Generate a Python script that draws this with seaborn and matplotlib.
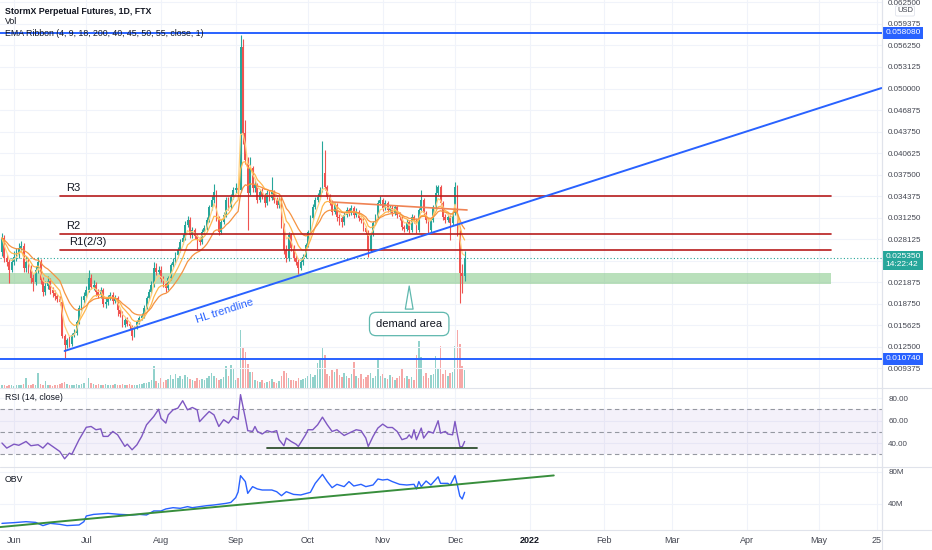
import numpy as np
import pandas as pd
import matplotlib
matplotlib.use("Agg")
import matplotlib.pyplot as plt
import matplotlib.dates as mdates
import matplotlib.transforms as mtransforms
from matplotlib.lines import Line2D
import seaborn as sns

# ---------------- data ----------------
START = "2021-06-01"          # day 0
FIRST_DAY = -5                # first candle = 2021-05-27
OPEN_FIRST = 0.02625

CLOSES = [
    0.02828, 0.02537, 0.02479, 0.02363, 0.02479, 0.02552, 0.02581, 0.02683, 0.02712, 0.02392,
    0.02479, 0.02392, 0.02247, 0.02189, 0.02363, 0.02479, 0.02218, 0.02043, 0.02130, 0.02203,
    0.02072, 0.02029, 0.01985, 0.01942, 0.01898, 0.01404, 0.01273, 0.01346, 0.01288, 0.01418,
    0.01448, 0.01607, 0.01811, 0.01927, 0.01985, 0.02072, 0.02247, 0.02116, 0.02145, 0.02043,
    0.02000, 0.02072, 0.01869, 0.01898, 0.01956, 0.02000, 0.01912, 0.01956, 0.01782, 0.01724,
    0.01564, 0.01636, 0.01578, 0.01549, 0.01404, 0.01520, 0.01607, 0.01665, 0.01695, 0.01811,
    0.01956, 0.02043, 0.02145, 0.02392, 0.02334, 0.02363, 0.02232, 0.02160, 0.02101, 0.02247,
    0.02436, 0.02479, 0.02581, 0.02653, 0.02770, 0.02828, 0.03017, 0.03089, 0.02871, 0.02944,
    0.02857, 0.02799, 0.02770, 0.02915, 0.02973, 0.03089, 0.03278, 0.03380, 0.03496, 0.03118,
    0.02915, 0.03060, 0.03162, 0.03380, 0.03278, 0.03424, 0.03525, 0.03554, 0.03525, 0.05603,
    0.04354, 0.03961, 0.03482, 0.03845, 0.03554, 0.03598, 0.03380, 0.03496, 0.03438, 0.03336,
    0.03482, 0.03409, 0.03496, 0.03380, 0.03307, 0.03380, 0.03017, 0.02653, 0.02537, 0.02871,
    0.02683, 0.02537, 0.02479, 0.02392, 0.02479, 0.02552, 0.02726, 0.02915, 0.03118, 0.03278,
    0.03380, 0.03424, 0.03525, 0.03772, 0.03569, 0.03424, 0.03336, 0.03206, 0.03307, 0.03133,
    0.03118, 0.03060, 0.03162, 0.03235, 0.03191, 0.03264, 0.03162, 0.03206, 0.03118, 0.03089,
    0.02973, 0.02915, 0.02653, 0.02886, 0.03046, 0.03133, 0.03336, 0.03380, 0.03264, 0.03336,
    0.03235, 0.03264, 0.03191, 0.03278, 0.03162, 0.03133, 0.02988, 0.02959, 0.03060, 0.02944,
    0.03133, 0.03089, 0.02944, 0.03235, 0.03380, 0.03191, 0.03089, 0.02944, 0.03089, 0.03278,
    0.03482, 0.03569, 0.03336, 0.03133, 0.03089, 0.03133, 0.03046, 0.03191, 0.03569, 0.02900,
    0.02319, 0.02276, 0.02535,
]
HIGHS = [
    0.02900, 0.02870, 0.02600, 0.02520, 0.02540, 0.02640, 0.02680, 0.02760, 0.02790, 0.02760,
    0.02560, 0.02530, 0.02440, 0.02300, 0.02420, 0.02550, 0.02520, 0.02260, 0.02200, 0.02270,
    0.02240, 0.02110, 0.02070, 0.02010, 0.01990, 0.01930, 0.01430, 0.01380, 0.01400, 0.01450,
    0.01500, 0.01640, 0.01850, 0.01980, 0.02050, 0.02130, 0.02360, 0.02300, 0.02220, 0.02190,
    0.02090, 0.02110, 0.02100, 0.01950, 0.02000, 0.02050, 0.02040, 0.02000, 0.01990, 0.01810,
    0.01760, 0.01670, 0.01680, 0.01610, 0.01570, 0.01550, 0.01640, 0.01700, 0.01740, 0.01850,
    0.01990, 0.02080, 0.02200, 0.02480, 0.02460, 0.02420, 0.02420, 0.02270, 0.02200, 0.02280,
    0.02470, 0.02540, 0.02620, 0.02700, 0.02820, 0.02880, 0.03080, 0.03150, 0.03130, 0.02990,
    0.02980, 0.02890, 0.02830, 0.02960, 0.03020, 0.03130, 0.03310, 0.03440, 0.03610, 0.03530,
    0.03150, 0.03100, 0.03200, 0.03420, 0.03430, 0.03460, 0.03570, 0.03620, 0.03590, 0.05780,
    0.05720, 0.04540, 0.04000, 0.04000, 0.03880, 0.03680, 0.03630, 0.03540, 0.03560, 0.03480,
    0.03530, 0.03530, 0.03720, 0.03530, 0.03420, 0.03430, 0.03420, 0.03050, 0.02720, 0.02920,
    0.02900, 0.02720, 0.02580, 0.02520, 0.02520, 0.02600, 0.02760, 0.02950, 0.03160, 0.03320,
    0.03420, 0.03480, 0.03570, 0.04230, 0.04100, 0.03600, 0.03460, 0.03380, 0.03340, 0.03340,
    0.03180, 0.03150, 0.03200, 0.03280, 0.03270, 0.03300, 0.03290, 0.03260, 0.03240, 0.03150,
    0.03120, 0.03000, 0.02940, 0.02920, 0.03080, 0.03170, 0.03380, 0.03440, 0.03410, 0.03380,
    0.03370, 0.03300, 0.03300, 0.03310, 0.03310, 0.03200, 0.03160, 0.03020, 0.03100, 0.03090,
    0.03170, 0.03160, 0.03120, 0.03270, 0.03520, 0.03410, 0.03220, 0.03110, 0.03120, 0.03310,
    0.03600, 0.03600, 0.03600, 0.03370, 0.03170, 0.03170, 0.03160, 0.03230, 0.03640, 0.03600,
    0.02950, 0.02450, 0.02640,
]
LOWS = [
    0.02560, 0.02480, 0.02420, 0.02175, 0.02330, 0.02430, 0.02500, 0.02540, 0.02640, 0.02340,
    0.02330, 0.02320, 0.02170, 0.02060, 0.02150, 0.02320, 0.02160, 0.01990, 0.02000, 0.02090,
    0.02010, 0.01970, 0.01930, 0.01900, 0.01850, 0.01370, 0.01080, 0.01230, 0.01250, 0.01260,
    0.01390, 0.01420, 0.01580, 0.01780, 0.01890, 0.01950, 0.02040, 0.02080, 0.02070, 0.01990,
    0.01950, 0.01960, 0.01830, 0.01810, 0.01860, 0.01920, 0.01870, 0.01880, 0.01700, 0.01680,
    0.01530, 0.01530, 0.01550, 0.01500, 0.01350, 0.01390, 0.01500, 0.01580, 0.01640, 0.01670,
    0.01790, 0.01920, 0.02010, 0.02120, 0.02290, 0.02300, 0.02190, 0.02110, 0.02050, 0.02070,
    0.02220, 0.02400, 0.02450, 0.02550, 0.02620, 0.02740, 0.02800, 0.02990, 0.02830, 0.02830,
    0.02810, 0.02650, 0.02720, 0.02740, 0.02890, 0.02940, 0.03060, 0.03240, 0.03340, 0.03080,
    0.02870, 0.02880, 0.03030, 0.03130, 0.03240, 0.03250, 0.03390, 0.03480, 0.03470, 0.03490,
    0.04200, 0.03900, 0.02940, 0.03450, 0.03500, 0.03500, 0.03330, 0.03350, 0.03390, 0.03280,
    0.03300, 0.03360, 0.03380, 0.03330, 0.03260, 0.03270, 0.02980, 0.02600, 0.02480, 0.02500,
    0.02640, 0.02490, 0.02430, 0.02310, 0.02360, 0.02440, 0.02530, 0.02700, 0.02890, 0.03090,
    0.03250, 0.03350, 0.03390, 0.03500, 0.03530, 0.03390, 0.03300, 0.03160, 0.03180, 0.03080,
    0.03020, 0.02990, 0.03020, 0.03130, 0.03150, 0.03160, 0.03120, 0.03130, 0.03080, 0.03050,
    0.02930, 0.02880, 0.02550, 0.02630, 0.02860, 0.03020, 0.03110, 0.03300, 0.03220, 0.03230,
    0.03200, 0.03200, 0.03150, 0.03160, 0.03120, 0.03090, 0.02950, 0.02910, 0.02930, 0.02900,
    0.02910, 0.03050, 0.02900, 0.02920, 0.03200, 0.03150, 0.03050, 0.02900, 0.02920, 0.03060,
    0.03250, 0.03450, 0.03300, 0.03090, 0.03050, 0.03060, 0.02800, 0.03010, 0.03160, 0.02850,
    0.01880, 0.02030, 0.02200,
]
VOLUME = [  # millions
    3, 3, 2, 3, 3, 2, 3, 3, 3, 4,
    10, 3, 3, 4, 3, 15, 4, 3, 7,
    3, 3, 2, 3, 3, 4, 5, 6,
    4, 3, 3, 3, 4, 3, 4, 5, 27, 10,
    5, 4, 3, 4, 3, 3, 4, 3, 3, 3, 4, 3, 3, 4, 3, 3, 4, 3, 3, 3, 4, 4, 5, 5, 6,
    8, 22, 7, 5, 10, 6, 8, 9, 13, 9, 14, 10, 12, 9, 13, 11, 9, 8, 7, 10,
    8, 9, 8, 10, 12, 15, 12, 10, 8, 9, 11, 22, 12, 23, 20, 8, 10,
    58, 40, 36, 24, 16, 16, 8,
    7, 6, 8, 5, 6, 7, 9, 6, 5, 7,
    12, 17, 15, 10, 8,
    8, 7, 10, 8, 9,
    10, 12, 14, 11, 13,
    25, 28, 40, 33,
    14, 12, 18, 16, 20, 13, 11, 15, 12, 10, 14,
    26,
    12, 10, 14, 9, 11, 13, 15, 10, 12,
    30,
    12, 14, 10, 9, 13, 11, 8, 10, 12,
    20,
    10, 12, 9, 11, 8,
    33, 47, 31,
    12, 15, 10, 13, 14,
    32, 20, 42,
    14, 18, 12, 15, 16,
    42, 58, 44, 22, 18,
]

RSI_DAYS = [-5, -3, 0, 2, 5, 7, 10, 12, 14, 17, 19, 21, 23, 24, 27, 30, 32, 34, 36, 37,
            39, 41, 43, 46, 47, 49, 51, 53, 55, 58, 60, 61, 63, 64, 66, 68, 70, 72, 74, 76,
            77, 79, 81, 83, 85, 87, 89, 91, 93, 94, 96, 97, 99, 100, 101, 103, 105, 107, 109, 110,
            112, 113, 115, 117, 118, 121, 122, 124, 126, 128, 130, 132, 134, 137, 139, 142, 144, 146, 147, 149,
            151, 153, 155, 157, 159, 161, 163, 164, 165, 166, 167, 169, 170, 172, 174, 176, 177, 179, 180, 182,
            183, 184, 185, 186, 187]
RSI_VALUES = [40, 35.5, 39, 38, 41.4, 37.6, 38.5, 35.5, 40, 35.5,
              32.5, 26, 31, 30, 43, 54, 54.7, 51.8, 52.6, 45.9,
              45.9, 50.3, 47.3, 37, 39, 34, 38.4, 45.9, 56.2, 63.6,
              70, 62, 57.7, 65, 69.5, 71, 77.6, 69.5, 71.6, 69.5,
              59, 63.6, 68, 65, 54.7, 60.7, 57.7, 63.6, 61, 83,
              62, 51, 50.3, 54.7, 50.3, 48, 51, 49.7, 51, 43,
              37.6, 44.4, 41.4, 39, 37, 47.3, 51.8, 51.8, 56.2, 63,
              56.2, 50.3, 51.8, 46.7, 48.8, 51.8, 51, 44.4, 37, 45.9,
              53.3, 56.8, 53.8, 53.8, 50.3, 43, 44.4, 47.3, 44.4, 51.8,
              43, 53.3, 44.4, 50.3, 48.8, 59.8, 48.8, 50.3, 48, 47.3,
              59.2, 47.3, 37, 36.5, 41.4]

OBV_DAYS = [-5, 0, 5, 9, 12, 15, 19, 22, 27, 29,
            30, 33, 39, 44, 49, 52, 55, 58, 61, 63,
            66, 69, 72, 74, 77, 80, 83, 85, 88, 90,
            92, 93, 94, 96, 97, 99, 101, 103, 107, 109,
            111, 113, 116, 119, 123, 125, 128, 130, 132, 134,
            137, 139, 141, 144, 146, 149, 151, 153, 155, 157,
            160, 163, 166, 167, 168, 169, 171, 173, 176, 177,
            180, 181, 183, 184, 185, 186, 187]
OBV_VALUES = [15.8, 16.7, 17.9, 17, 13, 15.8, 14.6, 13, 13.8, 17.9,   # millions
              25, 27, 28.3, 27, 26.3, 27, 26.3, 31.3, 31.3, 33.8,
              35.4, 34.6, 36.7, 35.4, 36.7, 37.9, 38.8, 39.6, 40.8, 42,
              48, 55, 75.4, 68, 53.3, 61.7, 58.8, 57.5, 57.5, 55.4,
              50.4, 55.4, 52, 51.3, 54.6, 65.8, 77, 68, 60.4, 64.6,
              61.7, 68, 62.5, 64.6, 61.7, 63.75, 71.25, 70, 70.8, 68,
              64.6, 63.75, 64.6, 58.8, 68, 61.7, 68.75, 63.75, 74, 65.8,
              65.8, 63.75, 75.4, 63.75, 50, 46.25, 54.6]

EMA_LENGTHS = [4, 9, 18]
EMA_COLORS = ["#ffd180", "#ffb74d", "#f59342"]

LEVEL_HIGH = 0.05808
LEVEL_LOW = 0.01074
LAST_PRICE = 0.02535
R_LEVELS = [0.03431, 0.02886, 0.02653]
R_NAMES = ["R3", "R2", "R1(2/3)"]
R_LABEL_DAYS = [21.6, 21.6, 22.8]
R_START, R_END = "2021-06-20", "2022-05-06"
DEMAND_LOW, DEMAND_HIGH = 0.02160, 0.02319
DEMAND_START, DEMAND_END = "2021-05-26", "2022-05-06"
TREND_START = ("2021-06-22", 0.01186)
TREND_END = ("2022-05-27", 0.05007)
HL_LABEL = (87.5, 0.0177)
CONSOL_START = ("2021-10-11", 0.03351)
CONSOL_END = ("2021-12-06", 0.03235)
DEMAND_TIP = ("2021-11-12", 0.0217)
DEMAND_TEXT_PRICE = 0.01578
RSI_SUPPORT = ("2021-09-14", "2021-12-10", 36.0)
OBV_TREND = (("2021-05-26", 11.1), ("2022-01-11", 75.7))

XTICK_DATES = ["2021-06-01", "2021-07-01", "2021-08-01", "2021-09-01", "2021-10-01",
               "2021-11-01", "2021-12-01", "2022-01-01", "2022-02-01", "2022-03-01",
               "2022-04-01", "2022-05-01", "2022-05-25"]
XTICK_LABELS = ["Jun", "Jul", "Aug", "Sep", "Oct", "Nov", "Dec", "2022", "Feb", "Mar",
                "Apr", "May", "25"]

PRICE_TICKS = [0.009375 + 0.003125 * i for i in range(18)]

# ---------------- styling ----------------
sns.set_theme(style="white")
plt.rcParams["font.family"] = ["Liberation Sans", "DejaVu Sans"]

UP, DOWN = "#26a69a", "#ef5350"
BLUE = "#2962ff"
GRID = "#f0f3fa"
SEP = "#e0e3eb"
TXT = "#131722"
AXTXT = "#434651"

W, H = 932, 550
fig = plt.figure(figsize=(W / 100, H / 100), dpi=100)
fig.patch.set_facecolor("white")


def rect(top, bottom):
    return [0, 1 - bottom / H, 882 / W, (bottom - top) / H]


ax = fig.add_axes(rect(0, 388))
ax_rsi = fig.add_axes(rect(388, 467), sharex=ax)
ax_obv = fig.add_axes(rect(467, 530), sharex=ax)
ax_vol = ax.twinx()
ax.set_zorder(ax_vol.get_zorder() + 1)
ax.patch.set_visible(False)

start = pd.Timestamp(START)
to_num = lambda s: mdates.date2num(pd.Timestamp(s))
day_num = lambda d: mdates.date2num(start + pd.Timedelta(days=float(d)))

n = len(CLOSES)
days = np.arange(FIRST_DAY, FIRST_DAY + n)
x = np.array([day_num(d) for d in days])
c = np.array(CLOSES)
o = np.array([OPEN_FIRST] + CLOSES[:-1])
hi = np.array(HIGHS)
lo = np.array(LOWS)
up = c >= o
cols = np.where(up, UP, DOWN)

x_left, x_right = day_num(-5.81), day_num(360.2)

# ---- main price panel ----
ax.fill_between([to_num(DEMAND_START), to_num(DEMAND_END)], DEMAND_LOW, DEMAND_HIGH,
                color="#81c784", alpha=0.55, lw=0, zorder=1)
ax.axhline(LAST_PRICE, color=UP, lw=0.8, ls=(0, (1, 2)), zorder=1)
ax.vlines(x, lo, hi, colors=cols, lw=0.8, zorder=3)
ax.bar(x, np.maximum(np.abs(c - o), 0.00005), bottom=np.minimum(o, c), width=0.74,
       color=cols, lw=0, zorder=4)

close_s = pd.Series(c)
for L, col in zip(EMA_LENGTHS, EMA_COLORS):
    sns.lineplot(x=x, y=close_s.ewm(span=L, adjust=False).mean().values, ax=ax,
                 color=col, lw=0.9, zorder=5)

for lvl in R_LEVELS:
    ax.plot([to_num(R_START), to_num(R_END)], [lvl, lvl], color="#b71c1c", lw=1.2, zorder=6)
for lvl, name, d in zip(R_LEVELS, R_NAMES, R_LABEL_DAYS):
    ax.annotate(name, xy=(day_num(d), lvl), xytext=(0, 2.5), textcoords="offset points",
                ha="left", va="bottom", fontsize=8, color=TXT, zorder=7)

ax.axhline(LEVEL_HIGH, color=BLUE, lw=1.4, zorder=6)
ax.axhline(LEVEL_LOW, color=BLUE, lw=1.4, zorder=6)
t0, t1 = (to_num(TREND_START[0]), TREND_START[1]), (to_num(TREND_END[0]), TREND_END[1])
ax.plot([t0[0], t1[0]], [t0[1], t1[1]], color=BLUE, lw=1.4, zorder=6)
ax.plot([to_num(CONSOL_START[0]), to_num(CONSOL_END[0])], [CONSOL_START[1], CONSOL_END[1]],
        color="#ef8354", lw=1.2, zorder=6)

ax.set_xlim(x_left, x_right)
ax.set_ylim(0.00648, 0.06286)
ax.yaxis.tick_right()
ax.set_yticks(PRICE_TICKS)
# labels hidden behind the last-price badge are left blank, as on the reference
ax.set_yticklabels(["" if abs(t - LAST_PRICE) < 0.0012 else f"{t:.6f}" for t in PRICE_TICKS])

# trendline label along the line
p0 = ax.transData.transform(t0)
p1 = ax.transData.transform(t1)
ang = np.degrees(np.arctan2(p1[1] - p0[1], p1[0] - p0[0]))
ax.text(day_num(HL_LABEL[0]), HL_LABEL[1], "HL trendline", rotation=ang, color=BLUE,
        fontsize=8, ha="center", va="center", rotation_mode="anchor", zorder=7)

ax.annotate("demand area", xy=(to_num(DEMAND_TIP[0]), DEMAND_TIP[1]),
            xytext=(to_num(DEMAND_TIP[0]), DEMAND_TEXT_PRICE),
            ha="center", va="center", fontsize=8, color=TXT, zorder=8,
            bbox=dict(boxstyle="round,pad=0.6,rounding_size=0.6", fc="white", ec="#5fb8ae", lw=0.9),
            arrowprops=dict(arrowstyle="wedge,tail_width=0.7,shrink_factor=0.5", fc="white",
                            ec="#5fb8ae", lw=0.9, relpos=(0.5, 1.0)))

# volume (overlay at bottom of main panel)
vol_cols = [(0.149, 0.651, 0.604, 0.5) if u else (0.937, 0.325, 0.314, 0.5) for u in up]
ax_vol.bar(x, VOLUME, width=0.65, color=vol_cols, lw=0)
ax_vol.set_ylim(0, max(VOLUME) / 0.15)
ax_vol.set_yticks([])
for s in ax_vol.spines.values():
    s.set_visible(False)

# badges on the price scale
blend = mtransforms.blended_transform_factory(ax.transAxes, ax.transData)
for lvl, txt in [(LEVEL_HIGH, f"{LEVEL_HIGH:.6f}"), (LEVEL_LOW, f"{LEVEL_LOW:.6f}")]:
    ax.text(1.004, lvl, txt, transform=blend, ha="left", va="center", fontsize=6,
            color="white", clip_on=False, zorder=10,
            bbox=dict(boxstyle="square,pad=0.3", fc=BLUE, ec="none"))
off = mtransforms.offset_copy(blend, fig=fig, y=5, units="dots")
ax.text(1.004, LAST_PRICE, f"{LAST_PRICE:.6f}\n14:22:42", transform=off, ha="left", va="top",
        fontsize=6, color="white", clip_on=False, zorder=10, linespacing=1.15,
        bbox=dict(boxstyle="square,pad=0.3", fc=UP, ec="none"))
fig.text(905 / W, 1 - 11 / H, "USD", ha="center", va="center", fontsize=5.5, color=AXTXT,
         bbox=dict(boxstyle="round,pad=0.2", fc="white", ec=SEP, lw=0.6))

# ---- RSI panel ----
rsi_x = [day_num(d) for d in RSI_DAYS]
ax_rsi.axhspan(30, 70, color="#7e57c2", alpha=0.08, lw=0)
for lv in (70, 50, 30):
    ax_rsi.axhline(lv, color="#9598a1", lw=0.8, ls=(0, (4, 3)))
sns.lineplot(x=rsi_x, y=RSI_VALUES, ax=ax_rsi, color="#7e57c2", lw=1.0)
ax_rsi.plot([to_num(RSI_SUPPORT[0]), to_num(RSI_SUPPORT[1])], [RSI_SUPPORT[2]] * 2,
            color="#2f4f2f", lw=1.3)
ax_rsi.set_ylim(18.7, 88.9)
ax_rsi.yaxis.tick_right()
ax_rsi.set_yticks([40, 60, 80])
ax_rsi.set_yticklabels(["40.00", "60.00", "80.00"])

# ---- OBV panel ----
obv_x = [day_num(d) for d in OBV_DAYS]
sns.lineplot(x=obv_x, y=OBV_VALUES, ax=ax_obv, color=BLUE, lw=1.0)
(a0, v0), (a1, v1) = OBV_TREND
ax_obv.plot([to_num(a0), to_num(a1)], [v0, v1], color="#388e3c", lw=1.4)
ax_obv.set_ylim(7.5, 86.25)
ax_obv.yaxis.tick_right()
ax_obv.set_yticks([40, 80])
ax_obv.set_yticklabels(["40M", "80M"])

# ---- common axis styling ----
xt = [to_num(d) for d in XTICK_DATES]
for a in (ax, ax_rsi, ax_obv):
    a.set_xticks(xt)
    a.grid(True, color=GRID, lw=0.8)
    a.set_axisbelow(True)
    a.set_xlabel("")
    a.set_ylabel("")
    for side, s in a.spines.items():
        s.set_visible(side == "right")
        s.set_color(SEP)
        s.set_linewidth(0.8)
    a.tick_params(axis="y", length=0, pad=4.5, labelsize=5.8, labelcolor=AXTXT)
    a.tick_params(axis="x", length=0, labelbottom=False)
    if a.get_legend():
        a.get_legend().remove()
ax.set_xlim(x_left, x_right)
ax_obv.tick_params(axis="x", labelbottom=True, pad=4, labelsize=6.5, labelcolor=AXTXT)
ax_obv.set_xticklabels(XTICK_LABELS)
for lab in ax_obv.get_xticklabels():
    if lab.get_text() == "2022":
        lab.set_color(TXT)
        lab.set_fontweight("bold")

for py in (388, 467, 530):
    fig.add_artist(Line2D([0, 1], [1 - py / H] * 2, color=SEP, lw=0.8, transform=fig.transFigure))
fig.add_artist(Line2D([882 / W] * 2, [0, 1], color=SEP, lw=0.8, transform=fig.transFigure))

# ---- titles ----
fig.text(5 / W, 1 - 11 / H, "StormX Perpetual Futures, 1D, FTX", fontsize=6.3,
         fontweight="bold", color=TXT, va="center")
fig.text(5 / W, 1 - 22 / H, "Vol", fontsize=6.3, color=TXT, va="center")
fig.text(5 / W, 1 - 34 / H, "EMA Ribbon (4, 9, 18, 200, 40, 45, 50, 55, close, 1)",
         fontsize=6.3, color=TXT, va="center")
fig.text(5 / W, 1 - 398 / H, "RSI (14, close)", fontsize=6.3, color=TXT, va="center")
fig.text(5 / W, 1 - 479 / H, "OBV", fontsize=6.3, color=TXT, va="center")

fig.savefig("out.png", dpi=100, facecolor="white")
